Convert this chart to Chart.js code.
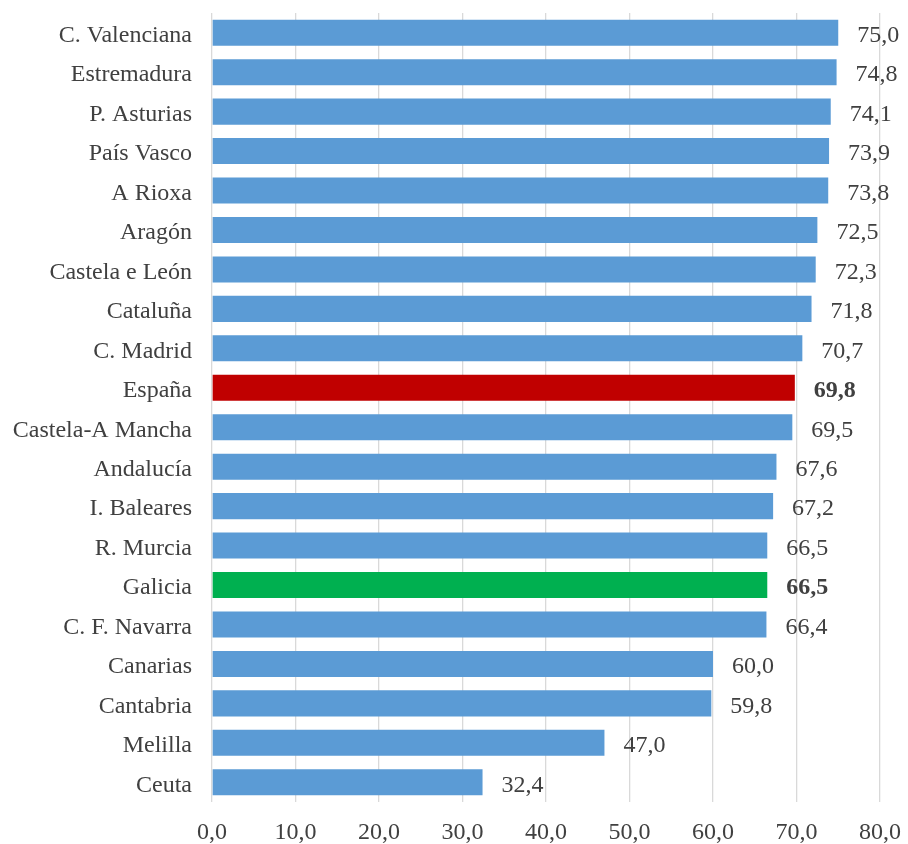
<!DOCTYPE html>
<html>
<head>
<meta charset="utf-8">
<script src="https://cdn.jsdelivr.net/npm/chart.js@4.4.1/dist/chart.umd.min.js"></script>
<style>
html,body{margin:0;padding:0;background:#fff;}
#wrap{width:908px;height:844px;}
</style>
</head>
<body>
<div id="wrap"><canvas id="c" width="908" height="844"></canvas></div>
<script>
const categories = ["C. Valenciana","Estremadura","P. Asturias","País Vasco","A Rioxa","Aragón","Castela e León","Cataluña","C. Madrid","España","Castela-A Mancha","Andalucía","I. Baleares","R. Murcia","Galicia","C. F. Navarra","Canarias","Cantabria","Melilla","Ceuta"];
const values = [75.0,74.8,74.1,73.9,73.8,72.5,72.3,71.8,70.7,69.8,69.5,67.6,67.2,66.5,66.5,66.4,60.0,59.8,47.0,32.4];
const highlight = {"España":"#C00000","Galicia":"#00B050"};
const baseColor = "#5B9BD5";
const xTicks = [0,10,20,30,40,50,60,70,80];

const fmt = v => v.toFixed(1).replace('.', ',');
const FONT = "'Liberation Serif','Times New Roman',serif";
const TXT = "#404040";

const labelPlugin = {
  id: 'valueLabels',
  afterDatasetsDraw(chart) {
    const ctx = chart.ctx;
    const meta = chart.getDatasetMeta(0);
    ctx.save();
    ctx.fillStyle = TXT;
    ctx.textBaseline = 'middle';
    ctx.textAlign = 'left';
    meta.data.forEach((bar, i) => {
      const bold = highlight[categories[i]] ? 'bold ' : '';
      ctx.font = bold + "24px " + FONT;
      ctx.fillText(fmt(values[i]), bar.x + 19, bar.y + 3);
    });
    ctx.restore();
  }
};

new Chart(document.getElementById('c'), {
  type: 'bar',
  data: {
    labels: categories,
    datasets: [{
      data: values,
      backgroundColor: categories.map(c => highlight[c] || baseColor),
      borderWidth: 0,
      barPercentage: 0.66,
      categoryPercentage: 1.0
    }]
  },
  options: {
    indexAxis: 'y',
    responsive: false,
    animation: false,
    layout: { padding: { top: 13, right: 28, left: 0, bottom: 0 } },
    plugins: { legend: { display: false }, tooltip: { enabled: false } },
    scales: {
      x: {
        min: 0, max: 80,
        afterBuildTicks(scale) { scale.ticks = xTicks.map(v => ({ value: v })); },
        afterFit(scale) { scale.height = 42; scale.paddingLeft = 0; scale.paddingRight = 0; },
        grid: { color: "#D9D9D9", lineWidth: 1.3, drawTicks: false },
        border: { display: false },
        ticks: {
          padding: 16,
          color: TXT,
          font: { family: FONT, size: 24 },
          callback: v => fmt(v),
          maxRotation: 0
        }
      },
      y: {
        afterFit(scale) { scale.width = 212; scale.paddingTop = 0; scale.paddingBottom = 0; },
        grid: { display: false, drawTicks: false },
        border: { display: false },
        ticks: {
          padding: 20,
          labelOffset: 3,
          color: TXT,
          font: { family: FONT, size: 24 },
          autoSkip: false
        }
      }
    }
  },
  plugins: [labelPlugin]
});
</script>
</body>
</html>
